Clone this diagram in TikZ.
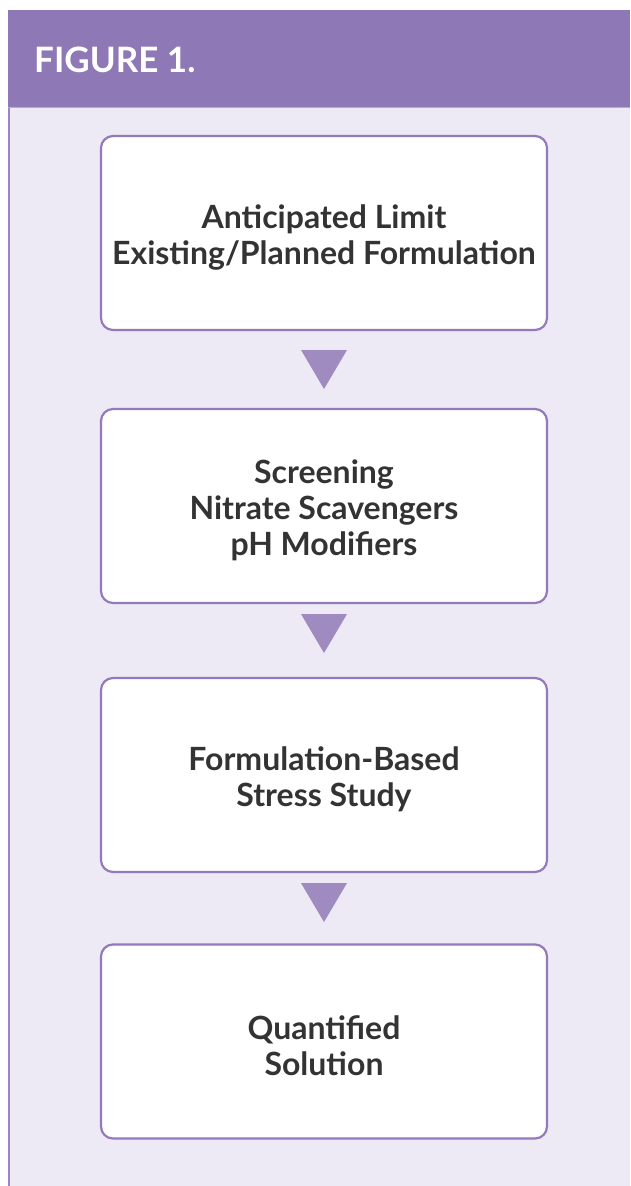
\documentclass[tikz,border=0pt]{standalone}
\usepackage{fontspec}
\setmainfont{Lato}
\definecolor{hdr}{HTML}{8E78B5}
\definecolor{bg}{HTML}{EDE9F5}
\definecolor{bordr}{HTML}{9479BB}
\definecolor{tri}{HTML}{A08BC0}
\definecolor{txt}{HTML}{333333}
\definecolor{edge}{HTML}{9B85C2}
\begin{document}
\begin{tikzpicture}[x=1pt,y=-1pt,
  stepbox/.style={draw=bordr,line width=2.2pt,fill=white,rounded corners=12pt,
    minimum width=446pt,minimum height=194pt,inner sep=0pt},
  steptext/.style={inner sep=0pt,align=center,yshift=-4pt,
    font=\fontsize{32}{36}\selectfont\bfseries,text=txt},
  arrowtri/.style={fill=tri,draw=none}]
\useasboundingbox (0,0) rectangle (630,1186);
\fill[white] (0,0) rectangle (630,1186);
\fill[bg] (9,10) rectangle (630,1186);
\draw[edge,line width=1.2pt] (9,10) -- (9,1186);
\fill[hdr] (8.4,9.5) rectangle (630,107);
\draw[edge!70!white,line width=1pt] (8.4,107.5) -- (630,107.5);
\node[anchor=base west,text=white,font=\fontsize{35}{40}\selectfont\bfseries,inner sep=0pt] (title) at (34,72) {FIGURE 1.};
\node[stepbox] (b1) at (324,233) {};
\node[stepbox] (b2) at (324,506) {};
\node[stepbox] (b3) at (324,775) {};
\node[stepbox] (b4) at (324,1041.5) {};
\node[steptext] (t1) at (b1) {Anticipated Limit\\Existing/Planned Formulation};
\node[steptext] (t2) at (b2) {Screening\\Nitrate Scavengers\\pH Modifiers};
\node[steptext] (t3) at (b3) {Formulation-Based\\Stress Study};
\node[steptext] (t4) at (b4) {Quantified\\Solution};
\fill[arrowtri] (301,350) -- (347,350) -- (324,389) -- cycle;
\fill[arrowtri] (301,614) -- (347,614) -- (324,653) -- cycle;
\fill[arrowtri] (301,883) -- (347,883) -- (324,922) -- cycle;
\end{tikzpicture}
\end{document}
